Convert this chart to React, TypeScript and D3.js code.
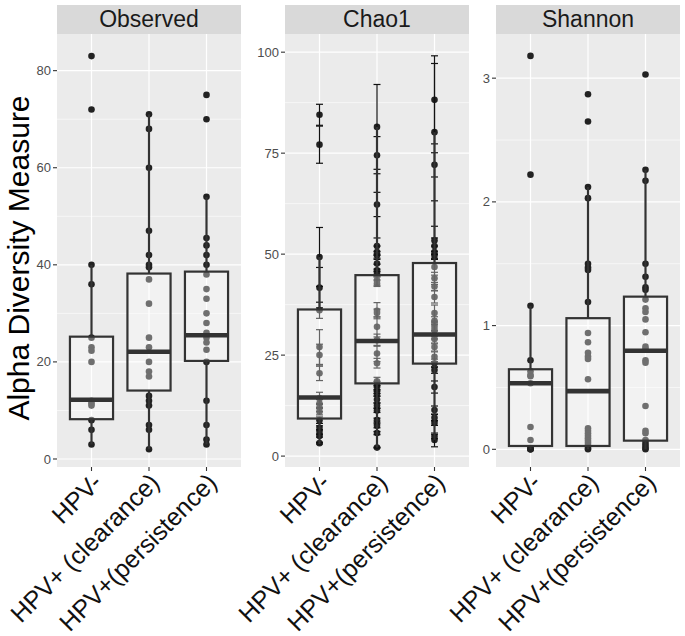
import React from "react";
import * as d3 from "d3";

const categories = ["HPV-", "HPV+ (clearance)", "HPV+(persistence)"];
const measures = ["Observed", "Chao1", "Shannon"];

// ---- Observed ----
const observedHPVneg = [83, 72, 40, 36, 25, 23, 22.3, 20, 12, 11.5, 11, 8, 6, 3];
const observedClearance = [71, 68, 60, 47, 42, 40, 39.5, 37, 32, 25, 23, 20, 18, 17, 13, 12, 11, 7, 6, 2];
const observedPersistence = [75, 70, 54, 45.5, 44, 42, 40, 38, 35, 33, 30, 28, 26, 25, 24, 22.5, 20, 12, 7, 4, 3];
const observedLow = [3, 2, 3];
const observedQ1 = [8.2, 14.1, 20.2];
const observedMedian = [12.2, 22.1, 25.5];
const observedQ3 = [25.2, 38.2, 38.6];
const observedHigh = [40, 71, 54];
const observedDomain = [-1.65, 87.55];
const observedTicks = [0, 20, 40, 60, 80];

// ---- Chao1 ----
const chaoHPVneg = [84.5, 77.1, 49.3, 41.7, 36.1, 27, 25, 20.5, 14.3, 13, 12, 11, 8.9, 7, 6, 5, 3.2];
const chaoHPVnegSE = [2.6, 4.6, 7.3, 5, 2, 4.3, 2.7, 1.8, 1.5, 1, 1, 0.8, 0.8, 0.5, 0.5, 0.3, 0.2];
const chaoClearance = [81.5, 74.5, 62.3, 52, 50.5, 49.7, 47.7, 46, 45.3, 43.5, 42.8, 36, 35.4, 32, 28.7, 25.4, 23, 18.5, 17.5, 16.3, 15.5, 14, 12.5, 11.3, 8.9, 7.5, 5.7, 2.1];
const chaoClearanceSE = [10.5, 4.6, 3, 2, 1.5, 1, 2, 1.5, 1, 1.2, 0.8, 2, 1, 2.5, 1.5, 2, 1.2, 1, 1, 0.8, 0.6, 0.8, 0.6, 0.5, 0.5, 0.5, 0.4, 0.1];
const chaoPersistence = [88.2, 80.2, 72.1, 53.4, 52, 50.5, 49.7, 46.8, 44, 42, 39.4, 35.4, 33.5, 32, 31.2, 30, 29, 27, 24.6, 23, 21.3, 17.1, 11.4, 9.5, 8.2, 4.8, 4];
const chaoPersistenceSE = [10.9, 17, 3, 3.5, 2, 1.5, 1, 2, 1.5, 1, 1.5, 2, 1, 1, 1.5, 1, 1.2, 1, 1.2, 1, 0.8, 1.5, 1, 0.8, 0.6, 0.5, 1.7];
const chaoLow = [3, 2.1, 4];
const chaoQ1 = [9.3, 18, 22.9];
const chaoMedian = [14.5, 28.5, 30.1];
const chaoQ3 = [36.3, 44.8, 47.8];
const chaoHigh = [49.3, 81.5, 80.2];
const chaoDomain = [-2.7, 104.5];
const chaoTicks = [0, 25, 50, 75, 100];

// ---- Shannon ----
const shannonHPVneg = [3.18, 2.22, 1.16, 0.72, 0.63, 0.6, 0.59, 0.534, 0.18, 0.075, 0.01, 0, 0, 0];
const shannonClearance = [2.87, 2.65, 2.12, 2.03, 1.5, 1.47, 1.45, 1.19, 0.94, 0.865, 0.78, 0.75, 0.73, 0.566, 0.17, 0.15, 0.13, 0.11, 0.09, 0.07, 0.05, 0.03, 0.01, 0];
const shannonPersistence = [3.03, 2.26, 2.17, 1.5, 1.395, 1.31, 1.29, 1.21, 1.14, 1.11, 1.05, 0.946, 0.83, 0.81, 0.72, 0.7, 0.35, 0.15, 0.13, 0.075, 0.05, 0.03, 0.01, 0];
const shannonLow = [0, 0, 0];
const shannonQ1 = [0.027, 0.027, 0.07];
const shannonMedian = [0.534, 0.47, 0.797];
const shannonQ3 = [0.647, 1.06, 1.234];
const shannonHigh = [1.16, 2.12, 2.26];
const shannonDomain = [-0.143, 3.357];
const shannonTicks = [0, 1, 2, 3];

const yTitle = "Alpha Diversity Measure";

const W = 685;
const H = 636;
const panelLefts = [57, 285, 496];
const panelWidth = 184;
const panelTop = 34;
const panelBottom = 467;
const stripTop = 5;
const FONT = "'Liberation Sans', Arial, Helvetica, sans-serif";

type Facet = {
  name: string;
  groups: number[][];
  se: number[][] | null;
  low: number[];
  q1: number[];
  med: number[];
  q3: number[];
  high: number[];
  domain: number[];
  ticks: number[];
};

export default function App() {
  const facets: Facet[] = [
    {
      name: measures[0],
      groups: [observedHPVneg, observedClearance, observedPersistence],
      se: null,
      low: observedLow, q1: observedQ1, med: observedMedian, q3: observedQ3, high: observedHigh,
      domain: observedDomain, ticks: observedTicks,
    },
    {
      name: measures[1],
      groups: [chaoHPVneg, chaoClearance, chaoPersistence],
      se: [chaoHPVnegSE, chaoClearanceSE, chaoPersistenceSE],
      low: chaoLow, q1: chaoQ1, med: chaoMedian, q3: chaoQ3, high: chaoHigh,
      domain: chaoDomain, ticks: chaoTicks,
    },
    {
      name: measures[2],
      groups: [shannonHPVneg, shannonClearance, shannonPersistence],
      se: null,
      low: shannonLow, q1: shannonQ1, med: shannonMedian, q3: shannonQ3, high: shannonHigh,
      domain: shannonDomain, ticks: shannonTicks,
    },
  ];

  return (
    <svg
      width={W}
      height={H}
      viewBox={`0 0 ${W} ${H}`}
      style={{ position: "absolute", left: 0, top: 0, display: "block", background: "#fff" }}
      fontFamily={FONT}
    >
      <rect x={0} y={0} width={W} height={H} fill="#fff" />
      {facets.map((f, fi) => {
        const left = panelLefts[fi];
        const right = left + panelWidth;
        const x = d3.scalePoint<string>().domain(categories).range([left, right]).padding(0.6);
        const y = d3.scaleLinear().domain(f.domain).range([panelBottom, panelTop]);
        const step = x.step();
        const boxW = step * 0.75;
        const capW = 7;
        const minor: number[] = [];
        for (let i = 0; i < f.ticks.length - 1; i++) minor.push((f.ticks[i] + f.ticks[i + 1]) / 2);
        const tickStep = f.ticks[1] - f.ticks[0];
        const after = f.ticks[f.ticks.length - 1] + tickStep / 2;
        if (after < f.domain[1]) minor.push(after);
        return (
          <g key={f.name}>
            <rect x={left} y={panelTop} width={panelWidth} height={panelBottom - panelTop} fill="#ebebeb" />
            {minor.map((v) => (
              <line key={"mn" + v} x1={left} x2={right} y1={y(v)} y2={y(v)} stroke="#fff" strokeWidth={0.6} />
            ))}
            {f.ticks.map((v) => (
              <line key={"mj" + v} x1={left} x2={right} y1={y(v)} y2={y(v)} stroke="#fff" strokeWidth={1.2} />
            ))}
            {categories.map((c) => (
              <line key={"vx" + c} x1={x(c)} x2={x(c)} y1={panelTop} y2={panelBottom} stroke="#fff" strokeWidth={1.2} />
            ))}
            {/* points */}
            {f.groups.map((g, gi) =>
              g.map((v, k) => (
                <circle key={`p${gi}-${k}`} cx={x(categories[gi])} cy={y(v)} r={3.3} fill="#222" />
              ))
            )}
            {/* error bars */}
            {f.se &&
              f.groups.map((g, gi) =>
                g.map((v, k) => {
                  const s = f.se![gi][k];
                  const cx = x(categories[gi])!;
                  const y1 = y(v - s);
                  const y2 = y(v + s);
                  return (
                    <g key={`e${gi}-${k}`} stroke="#111" strokeWidth={1.2}>
                      <line x1={cx} x2={cx} y1={y1} y2={y2} />
                      <line x1={cx - capW / 2} x2={cx + capW / 2} y1={y1} y2={y1} />
                      <line x1={cx - capW / 2} x2={cx + capW / 2} y1={y2} y2={y2} />
                    </g>
                  );
                })
              )}
            {/* boxplots */}
            {categories.map((c, gi) => {
              const cx = x(c)!;
              return (
                <g key={"b" + c}>
                  <line x1={cx} x2={cx} y1={y(f.q3[gi])} y2={y(f.high[gi])} stroke="#333" strokeWidth={2.2} />
                  <line x1={cx} x2={cx} y1={y(f.q1[gi])} y2={y(f.low[gi])} stroke="#333" strokeWidth={2.2} />
                  <rect
                    x={cx - boxW / 2}
                    y={y(f.q3[gi])}
                    width={boxW}
                    height={y(f.q1[gi]) - y(f.q3[gi])}
                    fill="#fff"
                    fillOpacity={0.35}
                    stroke="#333"
                    strokeWidth={2.2}
                  />
                  <line
                    x1={cx - boxW / 2}
                    x2={cx + boxW / 2}
                    y1={y(f.med[gi])}
                    y2={y(f.med[gi])}
                    stroke="#333"
                    strokeWidth={4.6}
                  />
                </g>
              );
            })}
            {/* y axis */}
            {f.ticks.map((v) => (
              <g key={"yt" + v}>
                <line x1={left - 4} x2={left} y1={y(v)} y2={y(v)} stroke="#333" strokeWidth={1.1} />
                <text x={left - 6} y={y(v)} dy="0.35em" textAnchor="end" fontSize={13} fill="#4d4d4d">
                  {String(v)}
                </text>
              </g>
            ))}
            {/* x axis */}
            {categories.map((c) => (
              <g key={"xt" + c}>
                <line x1={x(c)} x2={x(c)} y1={panelBottom} y2={panelBottom + 4} stroke="#333" strokeWidth={1.1} />
                <text
                  transform={`translate(${x(c)! + 12},${484}) rotate(-45)`}
                  textAnchor="end"
                  fontSize={25}
                  fill="#111"
                >
                  {c}
                </text>
              </g>
            ))}
            {/* strip */}
            <rect x={left} y={stripTop} width={panelWidth} height={panelTop - stripTop} fill="#d9d9d9" />
            <text x={(left + right) / 2} y={27} textAnchor="middle" fontSize={23} fill="#1a1a1a">
              {f.name}
            </text>
          </g>
        );
      })}
      <text transform={`translate(29,258) rotate(-90)`} textAnchor="middle" fontSize={30} fill="#000">
        {yTitle}
      </text>
    </svg>
  );
}
